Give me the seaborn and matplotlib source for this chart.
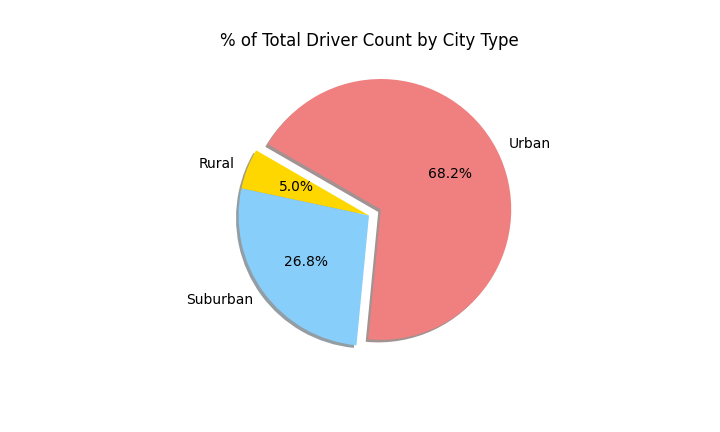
import matplotlib
matplotlib.use("Agg")
import matplotlib.pyplot as plt
import seaborn as sns

city_types = ["Rural", "Suburban", "Urban"]
driver_pct = [5.0, 26.8, 68.2]
colors = ["gold", "lightskyblue", "lightcoral"]
explode = [0, 0, 0.1]

sns.set_style("white")
plt.rcParams['font.family'] = ['DejaVu Sans']
plt.rcParams['text.color'] = 'black'

fig = plt.figure(figsize=(7.2, 4.32), dpi=100)
ax = plt.gca()
ax.pie(driver_pct, explode=explode, labels=city_types, colors=colors,
       autopct="%1.1f%%", shadow={"ox": -0.014, "oy": -0.014},
       startangle=150, radius=0.98, center=(0, 0.02),
       wedgeprops={"edgecolor": "none", "linewidth": 0})
ax.set_xlim(-1.25, 1.25)
ax.set_ylim(-1.25, 1.25)
ax.set_title("% of Total Driver Count by City Type", color="black", pad=4)
plt.savefig("out.png", dpi=100)
